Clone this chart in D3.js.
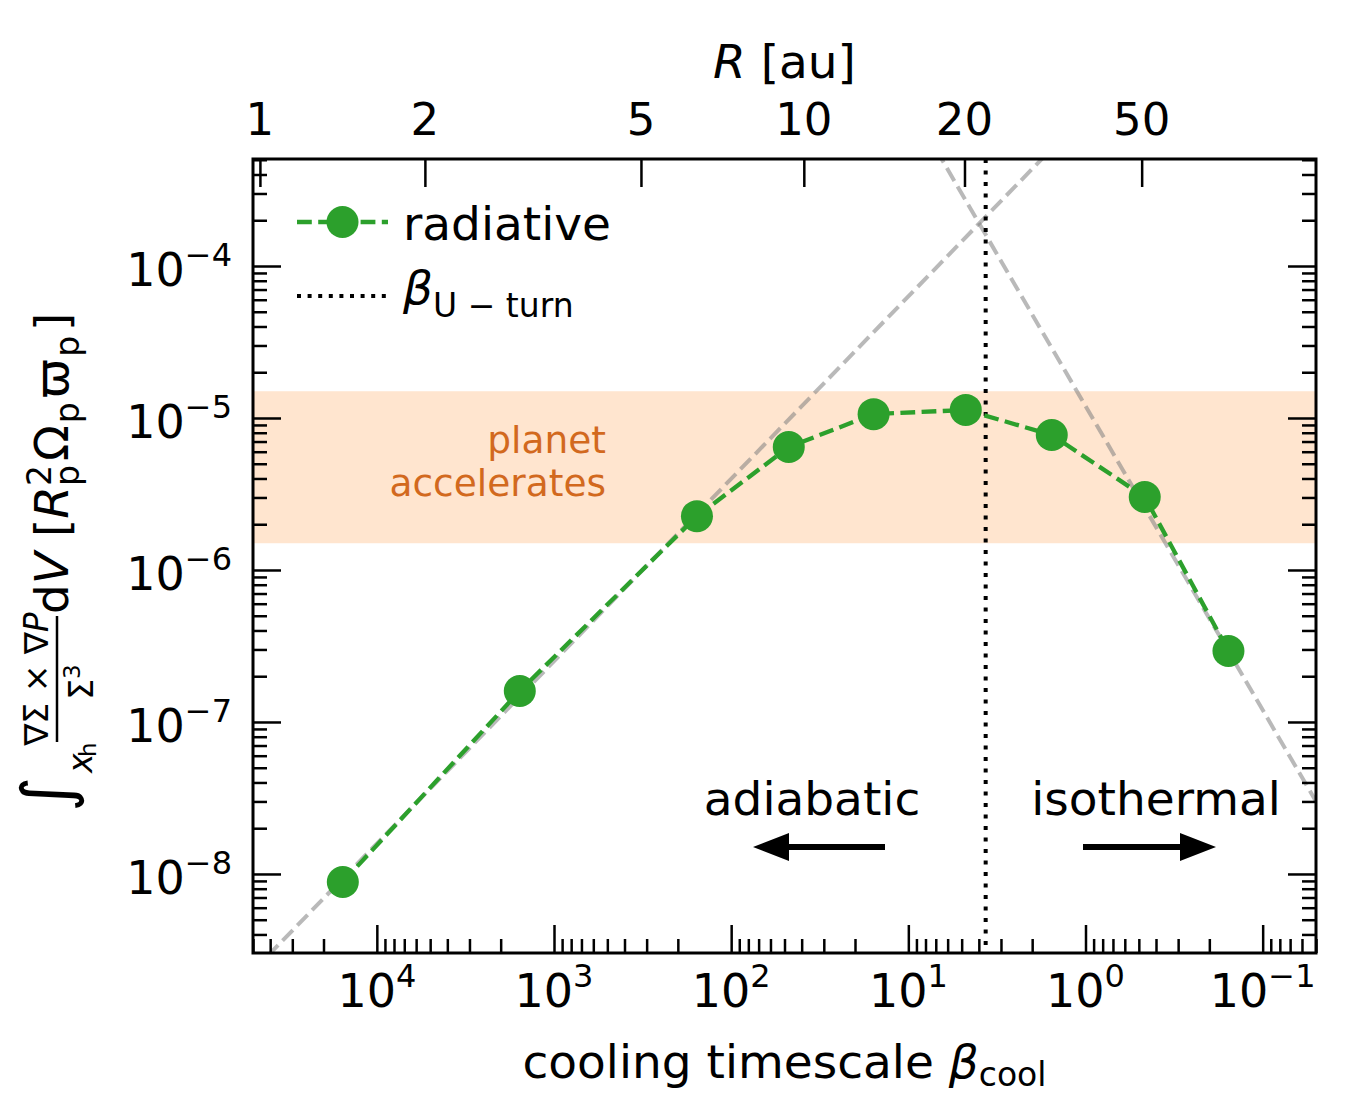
<!DOCTYPE html>
<html><head><meta charset="utf-8">
<script src="https://cdn.jsdelivr.net/npm/d3@7"></script>
<style>body{margin:0;background:#fff} text{font-family:"DejaVu Sans",sans-serif;fill:#000}</style>
</head><body>
<svg id="chart" width="1348" height="1096"></svg>
<script>
// ---- data ----
const coolingBeta = [15560, 1560, 156, 47.3, 15.7, 4.74, 1.55, 0.463, 0.156];
const torqueIntegral = [8.86e-9, 1.60e-7, 2.26e-6, 6.44e-6, 1.06e-5, 1.13e-5, 7.73e-6, 3.02e-6, 2.93e-7];
const betaUturn = 3.66;
const bandRange = [1.5e-6, 1.5e-5];
const adiabaticFit = {amp: 1.0e-3, slope: -1.2};
const isothermalFit = {amp: 1.2e-5, slope: 2.0};
const xMajorTicks = [1e4, 1e3, 1e2, 1e1, 1e0, 1e-1];
const xTickExps = ["4", "3", "2", "1", "0", "\u22121"];
const yMajorTicks = [1e-4, 1e-5, 1e-6, 1e-7, 1e-8];
const yTickExps = ["\u22124", "\u22125", "\u22126", "\u22127", "\u22128"];
const rTickLabels = ["1", "2", "5", "10", "20", "50"];
const rTickBeta = [45700, 5355, 323, 38.9, 4.82, 0.482];

// ---- layout ----
const M = {left: 253, right: 1316, top: 159, bottom: 953};
const svg = d3.select("#chart");
const x = d3.scaleLog().domain([5.0e4, 0.05]).range([M.left, M.right]);
const y = d3.scaleLog().domain([Math.pow(10, -8.52), Math.pow(10, -3.296)]).range([M.bottom, M.top]);
const green = "#2ca02c";
const TICKFS = 46, SUPFS = 32;

function minorTicks(dom) {
  const lo = Math.min(...dom), hi = Math.max(...dom), out = [];
  for (let e = Math.floor(Math.log10(lo)); e <= Math.ceil(Math.log10(hi)); e++)
    for (let m = 2; m <= 9; m++) { const v = m * Math.pow(10, e); if (v >= lo * 0.999 && v <= hi * 1.001) out.push(v); }
  return out;
}

svg.append("defs").append("clipPath").attr("id", "plotclip")
  .append("rect").attr("x", M.left).attr("y", M.top).attr("width", M.right - M.left).attr("height", M.bottom - M.top);

const plot = svg.append("g").attr("clip-path", "url(#plotclip)");

// band
plot.append("rect").attr("x", M.left).attr("width", M.right - M.left)
  .attr("y", y(bandRange[1])).attr("height", y(bandRange[0]) - y(bandRange[1]))
  .attr("fill", "#ff7f0e").attr("fill-opacity", 0.2);

// fit lines
[adiabaticFit, isothermalFit].forEach(f => {
  const ends = x.domain().map(b => [x(b), y(f.amp * Math.pow(b, f.slope))]);
  plot.append("path").attr("d", d3.line()(ends)).attr("fill", "none")
    .attr("stroke", "#808080").attr("stroke-opacity", 0.55).attr("stroke-width", 4)
    .attr("stroke-dasharray", "14.8 6.4");
});

// U-turn line
plot.append("line").attr("x1", x(betaUturn)).attr("x2", x(betaUturn))
  .attr("y1", M.top).attr("y2", M.bottom).attr("stroke", "#000").attr("stroke-width", 4)
  .attr("stroke-dasharray", "4 7.5");

// data line + markers
const pts = coolingBeta.map((b, i) => [x(b), y(torqueIntegral[i])]);
plot.append("path").attr("d", d3.line()(pts)).attr("fill", "none").attr("stroke", green)
  .attr("stroke-width", 4.3).attr("stroke-dasharray", "14.8 6.4");
plot.selectAll("circle.pt").data(pts).join("circle").attr("class", "pt")
  .attr("cx", d => d[0]).attr("cy", d => d[1]).attr("r", 16).attr("fill", green);

// ---- axes ----
function styleAxis(g) { g.select(".domain").remove(); g.selectAll(".tick line").attr("stroke", "#000").attr("stroke-width", 2.5); g.selectAll(".tick text").remove(); }
const xMinor = minorTicks(x.domain()), yMinor = minorTicks(y.domain());
svg.append("g").attr("transform", `translate(0,${M.bottom})`).call(d3.axisBottom(x).tickValues(xMajorTicks).tickSizeInner(-28).tickSizeOuter(0)).call(styleAxis);
svg.append("g").attr("transform", `translate(0,${M.bottom})`).call(d3.axisBottom(x).tickValues(xMinor).tickSizeInner(-14).tickSizeOuter(0)).call(styleAxis);
svg.append("g").attr("transform", `translate(${M.left},0)`).call(d3.axisLeft(y).tickValues(yMajorTicks).tickSizeInner(-28).tickSizeOuter(0)).call(styleAxis);
svg.append("g").attr("transform", `translate(${M.left},0)`).call(d3.axisLeft(y).tickValues(yMinor).tickSizeInner(-14).tickSizeOuter(0)).call(styleAxis);
svg.append("g").attr("transform", `translate(${M.right},0)`).call(d3.axisRight(y).tickValues(yMajorTicks).tickSizeInner(-28).tickSizeOuter(0)).call(styleAxis);
svg.append("g").attr("transform", `translate(${M.right},0)`).call(d3.axisRight(y).tickValues(yMinor).tickSizeInner(-14).tickSizeOuter(0)).call(styleAxis);
svg.append("g").attr("transform", `translate(0,${M.top})`).call(d3.axisTop(x).tickValues(rTickBeta).tickSizeInner(-28).tickSizeOuter(0)).call(styleAxis);

svg.append("rect").attr("x", M.left).attr("y", M.top).attr("width", M.right - M.left).attr("height", M.bottom - M.top)
  .attr("fill", "none").attr("stroke", "#000").attr("stroke-width", 3);

// tick labels
xMajorTicks.forEach((v, i) => {
  const t = svg.append("text").attr("x", x(v)).attr("y", 1007).attr("text-anchor", "middle").attr("font-size", TICKFS);
  t.append("tspan").text("10");
  t.append("tspan").attr("font-size", SUPFS).attr("dy", -20).text(xTickExps[i]);
});
yMajorTicks.forEach((v, i) => {
  const t = svg.append("text").attr("x", 232).attr("y", y(v) + 20).attr("text-anchor", "end").attr("font-size", TICKFS);
  t.append("tspan").text("10");
  t.append("tspan").attr("font-size", SUPFS).attr("dy", -20).text(yTickExps[i]);
});
rTickBeta.forEach((v, i) => {
  svg.append("text").attr("x", x(v)).attr("y", 135).attr("text-anchor", "middle").attr("font-size", 45).text(rTickLabels[i]);
});

// axis titles
const xt = svg.append("text").attr("x", (M.left + M.right) / 2).attr("y", 1078).attr("text-anchor", "middle").attr("font-size", 47);
xt.append("tspan").text("cooling timescale ");
xt.append("tspan").attr("font-style", "italic").text("\u03b2");
xt.append("tspan").attr("font-size", 33).attr("dy", 8).text("cool");

const tt = svg.append("text").attr("x", (M.left + M.right) / 2).attr("y", 78).attr("text-anchor", "middle").attr("font-size", 47);
tt.append("tspan").attr("font-style", "italic").text("R");
tt.append("tspan").text(" [au]");

// y label (rotated)
const yl = svg.append("g").attr("transform", "translate(68,560) rotate(-90)");
yl.append("text").attr("x", -252).attr("y", 2).attr("font-size", 68).text("\u222b");
yl.append("text").attr("x", -213).attr("y", 24).attr("font-size", 33).attr("font-style", "italic").text("x");
yl.append("text").attr("x", -197).attr("y", 28).attr("font-size", 23).text("h");
yl.append("line").attr("x1", -182).attr("x2", -56).attr("y1", -11).attr("y2", -11).attr("stroke", "#000").attr("stroke-width", 2.5);
const num = yl.append("text").attr("x", -119).attr("y", -20).attr("font-size", 33).attr("text-anchor", "middle");
num.append("tspan").text("\u2207\u03a3 \u00d7 \u2207");
num.append("tspan").attr("font-style", "italic").text("P");
const den = yl.append("text").attr("x", -122).attr("y", 25).attr("font-size", 33).attr("text-anchor", "middle");
den.append("tspan").text("\u03a3");
den.append("tspan").attr("font-size", 23).attr("dy", -13).text("3");
const ym = yl.append("text").attr("x", -54).attr("y", 0).attr("font-size", 47);
ym.append("tspan").text("d");
ym.append("tspan").attr("font-style", "italic").text("V");
ym.append("tspan").text("  [");
ym.append("tspan").attr("font-style", "italic").text("R");
ym.append("tspan").attr("font-size", 33).attr("dy", -17).text("2");
ym.append("tspan").attr("font-size", 33).attr("dx", -21).attr("dy", 28).text("p");
ym.append("tspan").attr("dx", 4).attr("dy", -11).text("\u03a9");
ym.append("tspan").attr("font-size", 33).attr("dx", 2).attr("dy", 11).text("p");
ym.append("tspan").attr("dx", 4).attr("dy", -11).text("\u03d6");
ym.append("tspan").attr("font-size", 33).attr("dx", 2).attr("dy", 11).text("p");
ym.append("tspan").attr("dx", 5).attr("dy", -11).text("]");

// legend
svg.append("line").attr("x1", 297).attr("x2", 388).attr("y1", 222).attr("y2", 222).attr("stroke", green).attr("stroke-width", 4.3).attr("stroke-dasharray", "14.8 6.4");
svg.append("circle").attr("cx", 342.5).attr("cy", 222).attr("r", 16).attr("fill", green);
svg.append("text").attr("x", 403).attr("y", 240).attr("font-size", 47).text("radiative");
svg.append("line").attr("x1", 297).attr("x2", 388).attr("y1", 296).attr("y2", 296).attr("stroke", "#000").attr("stroke-width", 4).attr("stroke-dasharray", "4 6.6");
const lb = svg.append("text").attr("x", 403).attr("y", 304).attr("font-size", 47);
lb.append("tspan").attr("font-style", "italic").text("\u03b2");
lb.append("tspan").attr("font-size", 33).attr("dy", 13).text("U \u2212 turn");

// annotations
svg.append("text").attr("x", 606).attr("y", 453).attr("text-anchor", "end").attr("font-size", 37.5).style("fill", "#d2691e").text("planet");
svg.append("text").attr("x", 606).attr("y", 496).attr("text-anchor", "end").attr("font-size", 37.5).style("fill", "#d2691e").text("accelerates");
svg.append("text").attr("x", 812).attr("y", 815).attr("text-anchor", "middle").attr("font-size", 47).text("adiabatic");
svg.append("text").attr("x", 1156).attr("y", 815).attr("text-anchor", "middle").attr("font-size", 47).text("isothermal");

function arrow(x0, x1, yc) {
  const dir = Math.sign(x1 - x0), hl = 36, hw = 14, sw = 3;
  const xb = x1 - dir * hl;
  return `M${x0},${yc - sw}L${xb},${yc - sw}L${xb},${yc - hw}L${x1},${yc}L${xb},${yc + hw}L${xb},${yc + sw}L${x0},${yc + sw}Z`;
}
svg.append("path").attr("d", arrow(885, 753, 847)).attr("fill", "#000");
svg.append("path").attr("d", arrow(1083, 1216, 847)).attr("fill", "#000");
</script>
</body></html>
